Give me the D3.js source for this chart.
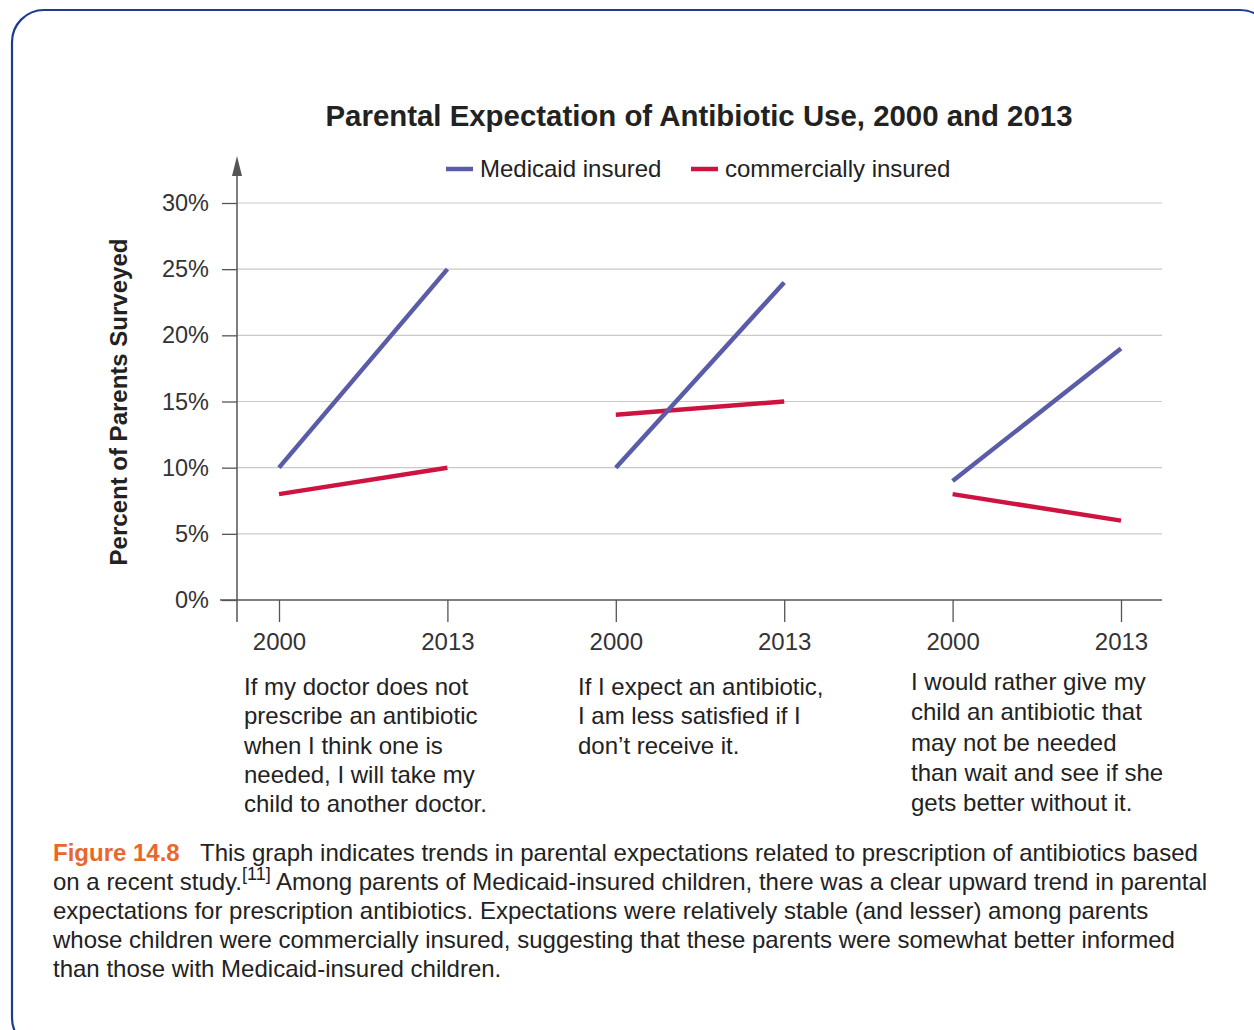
<!DOCTYPE html>
<html><head><meta charset="utf-8">
<script src="https://cdn.jsdelivr.net/npm/d3@7"></script>
<style>
html,body{margin:0;padding:0;background:#fff;}
svg{display:block;font-family:"Liberation Sans",Arial,sans-serif;}
</style></head>
<body>
<svg id="chart" width="1254" height="1030"></svg>
<script>
const title = "Parental Expectation of Antibiotic Use, 2000 and 2013";
const yAxisTitle = "Percent of Parents Surveyed";
const years = ["2000", "2013"];
const groups = ["g1", "g2", "g3"];
const medicaid = [[10, 25], [10, 24], [9, 19]];
const commercial = [[8, 10], [14, 15], [8, 6]];
const seriesNames = ["Medicaid insured", "commercially insured"];
const yTicks = [0, 5, 10, 15, 20, 25, 30];
const groupLabels = [
  ["If my doctor does not", "prescribe an antibiotic", "when I think one is", "needed, I will take my", "child to another doctor."],
  ["If I expect an antibiotic,", "I am less satisfied if I", "don\u2019t receive it."],
  ["I would rather give my", "child an antibiotic that", "may not be needed", "than wait and see if she", "gets better without it."]
];
const captionLabel = "Figure 14.8";
const captionLines = [
  "This graph indicates trends in parental expectations related to prescription of antibiotics based",
  "on a recent study.",
  "expectations for prescription antibiotics. Expectations were relatively stable (and lesser) among parents",
  "whose children were commercially insured, suggesting that these parents were somewhat better informed",
  "than those with Medicaid-insured children."
];
const captionRef = "[11]";
const captionLine2Rest = " Among parents of Medicaid-insured children, there was a clear upward trend in parental";

const colors = {medicaid: "#5a5ca8", commercial: "#cf1340"};

const svg = d3.select("#chart");

// frame
svg.append("rect").attr("x", 12).attr("y", 10).attr("width", 1260).attr("height", 1040)
  .attr("rx", 32).attr("ry", 32).attr("fill", "none").attr("stroke", "#1c3c8c").attr("stroke-width", 2.2);

const y = d3.scaleLinear().domain([0, 30]).range([600, 203]);
const x = d3.scaleLinear().domain([0, 5]).range([279, 1121]);
const xLeft = 237, xRight = 1162;

// gridlines
svg.append("g").selectAll("line").data(yTicks.filter(d => d > 0)).join("line")
  .attr("x1", xLeft).attr("x2", xRight).attr("y1", d => y(d)).attr("y2", d => y(d))
  .attr("stroke", "#c9c9c9").attr("stroke-width", 1.2);

// y axis
const yAxis = d3.axisLeft(y).tickValues(yTicks).tickSize(15).tickPadding(13).tickFormat(d => d + "%");
const gy = svg.append("g").attr("transform", `translate(${xLeft},0)`).call(yAxis);
gy.select(".domain").remove();
gy.selectAll(".tick line").attr("stroke", "#555").attr("stroke-width", 1.3);
gy.selectAll(".tick text").attr("font-size", 23.5).attr("fill", "#333").attr("font-family", "Liberation Sans, Arial, sans-serif");

// y axis line with arrow
svg.append("line").attr("x1", xLeft).attr("x2", xLeft).attr("y1", 172).attr("y2", 622)
  .attr("stroke", "#555").attr("stroke-width", 1.5);
svg.append("path").attr("d", `M${xLeft},156 L${xLeft - 5},176 L${xLeft + 5},176 Z`).attr("fill", "#555");

// x axis
const xAxis = d3.axisBottom(x).tickValues(d3.range(6)).tickSize(22).tickPadding(11)
  .tickFormat(i => years[i % 2]);
const gx = svg.append("g").attr("transform", `translate(0,${y(0)})`).call(xAxis);
gx.select(".domain").remove();
gx.selectAll(".tick line").attr("stroke", "#555").attr("stroke-width", 1.3);
gx.selectAll(".tick text").attr("font-size", 24).attr("fill", "#333").attr("font-family", "Liberation Sans, Arial, sans-serif");
svg.append("line").attr("x1", 220).attr("x2", xRight).attr("y1", y(0)).attr("y2", y(0))
  .attr("stroke", "#555").attr("stroke-width", 1.5);

// lines
function drawSeries(data, color) {
  svg.append("g").selectAll("line").data(data).join("line")
    .attr("x1", (d, i) => x(i * 2)).attr("x2", (d, i) => x(i * 2 + 1))
    .attr("y1", d => y(d[0])).attr("y2", d => y(d[1]))
    .attr("stroke", color).attr("stroke-width", 4.5).attr("stroke-linecap", "butt");
}
drawSeries(commercial, colors.commercial);
drawSeries(medicaid, colors.medicaid);

// title
svg.append("text").attr("x", 699).attr("y", 126).attr("text-anchor", "middle")
  .attr("font-size", 29.4).attr("font-weight", "bold").attr("fill", "#222").text(title);

// legend
const leg = [{name: seriesNames[0], color: colors.medicaid, x: 446}, {name: seriesNames[1], color: colors.commercial, x: 691}];
leg.forEach(l => {
  svg.append("line").attr("x1", l.x).attr("x2", l.x + 27).attr("y1", 169).attr("y2", 169)
    .attr("stroke", l.color).attr("stroke-width", 4.5);
  svg.append("text").attr("x", l.x + 34).attr("y", 176.5).attr("font-size", 24).attr("fill", "#222").text(l.name);
});

// y axis title
svg.append("text").attr("transform", "translate(127,402) rotate(-90)").attr("text-anchor", "middle")
  .attr("font-size", 24).attr("font-weight", "bold").attr("fill", "#222").text(yAxisTitle);

// group labels
const glPos = [{x: 244, y: 695, dy: 29.3}, {x: 578, y: 695, dy: 29.3}, {x: 911, y: 690, dy: 30.3}];
groupLabels.forEach((lines, gi) => {
  const t = svg.append("text").attr("font-size", 24).attr("fill", "#222");
  lines.forEach((ln, li) => {
    t.append("tspan").attr("x", glPos[gi].x).attr("y", glPos[gi].y + li * glPos[gi].dy).text(ln);
  });
});

// caption
const cap = svg.append("g").attr("font-size", 24).attr("fill", "#222");
const l1 = cap.append("text").attr("x", 53).attr("y", 861);
l1.append("tspan").attr("font-weight", "bold").attr("fill", "#e8682c").text(captionLabel);
l1.append("tspan").attr("x", 200).text(captionLines[0]);
const l2 = cap.append("text").attr("x", 53).attr("y", 890);
l2.append("tspan").text(captionLines[1]);
l2.append("tspan").attr("font-size", 18).attr("dy", -10).text(captionRef);
l2.append("tspan").attr("dy", 10).text(captionLine2Rest);
[2, 3, 4].forEach((k, i) => {
  cap.append("text").attr("x", 53).attr("y", 919 + i * 29).text(captionLines[k]);
});
</script>
</body></html>
